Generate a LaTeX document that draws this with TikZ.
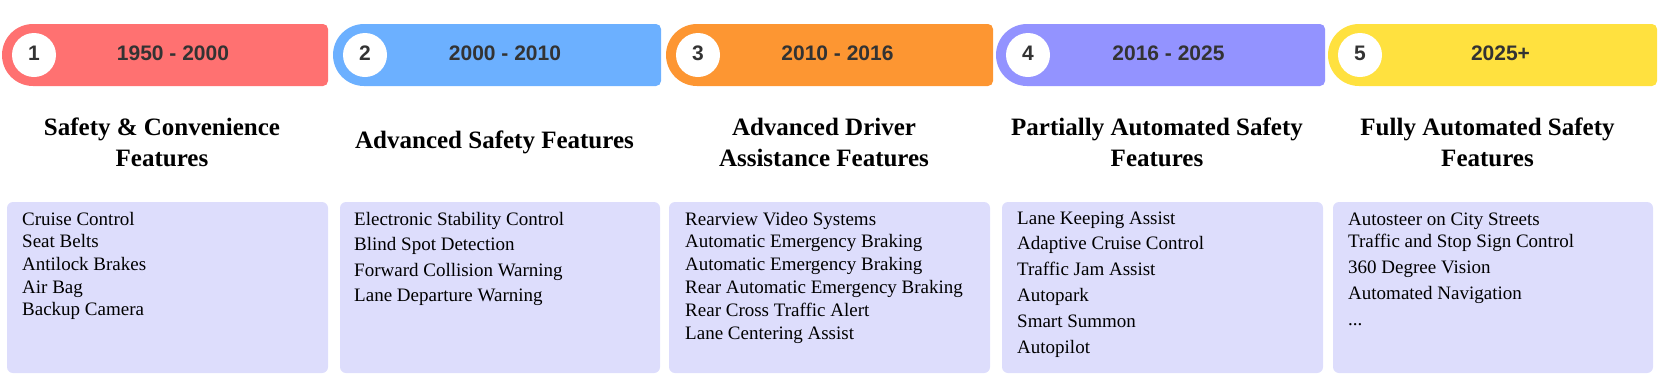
\documentclass[tikz,border=0pt]{standalone}
\usepackage{fontspec}
\setmainfont{Liberation Serif}
\newfontfamily\hsans{Liberation Sans}
\definecolor{cRed}{HTML}{FF7171}
\definecolor{cBlue}{HTML}{6CB0FF}
\definecolor{cOrange}{HTML}{FD9632}
\definecolor{cPurple}{HTML}{9393FF}
\definecolor{cYellow}{HTML}{FFE13F}
\definecolor{boxfill}{HTML}{DDDDFC}
\definecolor{hdrgray}{HTML}{333333}
\newcommand\hdr[5]{%
  \fill[#4] (#2+31,24) [rounded corners=5pt] -- (#3,24) -- (#3,86) [sharp corners] -- (#2+31,86) -- cycle;
  \fill[#4] (#2+31,55) circle[radius=31];
  \node[numcirc] (n#1) at (#2+32,55) {};
  \node[hdrtext] (l#1) at (#2+32,60) {#1};
  \node[hdrtext] (y#1) at ({(#2+#3)/2+8},60) {#5};
}
\begin{document}
\begin{tikzpicture}[x=1pt,y=-1pt,
  hdrtext/.style={font=\hsans\bfseries\fontsize{21}{25}\selectfont, text=hdrgray, inner sep=0pt, anchor=base},
  numcirc/.style={circle, fill=white, minimum size=44pt, inner sep=0pt},
  ttl/.style={font=\bfseries\fontsize{25}{30}\selectfont, inner sep=0pt, anchor=base},
  item/.style={font=\fontsize{19}{23}\selectfont, inner sep=0pt, anchor=base west},
  featbox/.style={fill=boxfill, rounded corners=6pt}
]
\useasboundingbox (0,0) rectangle (1661,389);

% headers
\hdr{1}{2}{328}{cRed}{1950 - 2000}
\hdr{2}{333}{661}{cBlue}{2000 - 2010}
\hdr{3}{666}{993}{cOrange}{2010 - 2016}
\hdr{4}{996}{1325}{cPurple}{2016 - 2025}
\hdr{5}{1328}{1657}{cYellow}{2025+}

% titles
\node[ttl] (t1a) at (162,135) {Safety \& Convenience};
\node[ttl] (t1b) at (162,166) {Features};
\node[ttl] (t2) at (494.5,148) {Advanced Safety Features};
\node[ttl] (t3a) at (824,135) {Advanced Driver};
\node[ttl] (t3b) at (824,166) {Assistance Features};
\node[ttl] (t4a) at (1157,135) {Partially Automated Safety};
\node[ttl] (t4b) at (1157,166) {Features};
\node[ttl] (t5a) at (1487.5,135) {Fully Automated Safety};
\node[ttl] (t5b) at (1487.5,166) {Features};

% boxes
\fill[featbox] (7,202) rectangle (328,373);
\fill[featbox] (340,202) rectangle (660,373);
\fill[featbox] (669,202) rectangle (990,373);
\fill[featbox] (1002,202) rectangle (1323,373);
\fill[featbox] (1333,202) rectangle (1653,373);

% items
\foreach \t/\y [count=\k] in {Cruise Control/225, Seat Belts/247.7, Antilock Brakes/270.4, Air Bag/293.1, Backup Camera/315.8}
  \node[item] (a\k) at (22,\y) {\t};
\foreach \t/\y [count=\k] in {Electronic Stability Control/225, Blind Spot Detection/250.6, Forward Collision Warning/276.2, Lane Departure Warning/301.8}
  \node[item] (b\k) at (354,\y) {\t};
\foreach \t/\y [count=\k] in {Rearview Video Systems/225, Automatic Emergency Braking/247.8, Automatic Emergency Braking/270.6, Rear Automatic Emergency Braking/293.4, Rear Cross Traffic Alert/316.2, Lane Centering Assist/339}
  \node[item] (c\k) at (685,\y) {\t};
\foreach \t/\y [count=\k] in {Lane Keeping Assist/224, Adaptive Cruise Control/249.8, Traffic Jam Assist/275.6, Autopark/301.4, Smart Summon/327.2, Autopilot/353}
  \node[item] (d\k) at (1017,\y) {\t};
\foreach \t/\y [count=\k] in {Autosteer on City Streets/225, Traffic and Stop Sign Control/247, 360 Degree Vision/273, Automated Navigation/299}
  \node[item] (e\k) at (1348,\y) {\t};
\node[item] (e5) at (1348,325) {...};
\end{tikzpicture}
\end{document}
